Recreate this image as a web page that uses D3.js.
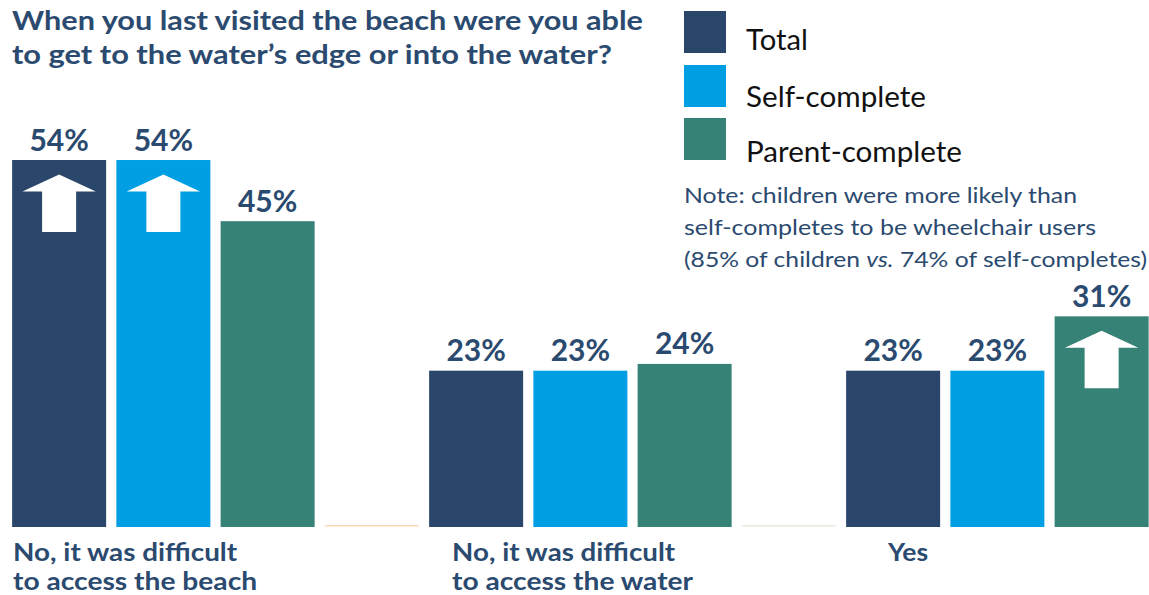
<!DOCTYPE html>
<html>
<head>
<meta charset="utf-8">
<script src="https://cdn.jsdelivr.net/npm/d3@7"></script>
<style>
  html, body { margin: 0; padding: 0; background: #fff; }
  svg { display: block; }
  text { font-family: Lato, "Open Sans", sans-serif; }
</style>
</head>
<body>
<svg id="chart" width="1149" height="595"></svg>
<script>
// ---- data ----
const categories = [
  ["No, it was difficult", "to access the beach"],
  ["No, it was difficult", "to access the water"],
  ["Yes"]
];
const seriesNames = ["Total", "Self-complete", "Parent-complete"];
const totalValues = [54, 23, 23];
const selfValues = [54, 23, 23];
const parentValues = [45, 24, 31];
// bars marked with an "up" arrow
const totalUp = [true, false, false];
const selfUp = [true, false, false];
const parentUp = [false, false, true];
const titleLines = [
  "When you last visited the beach were you able",
  "to get to the water\u2019s edge or into the water?"
];

// ---- styling ----
const colors = ["#2a466b", "#009fe3", "#378276"];
const navyText = "#2b4a6f";
const spacerColors = ["#fbd7b7", "#ecebe0"];

const svg = d3.select("#chart");

const groupIdx = d3.range(categories.length);
const slots = [...seriesNames, "gap"];
const valuesBySeries = [totalValues, selfValues, parentValues];
const upBySeries = [totalUp, selfUp, parentUp];

const x0 = d3.scaleBand().domain(groupIdx).range([7, 7 + 3 * 417]);
const x1 = d3.scaleBand().domain(slots).range([0, x0.bandwidth()])
  .paddingInner(0.0983).paddingOuter(0.0983 / 2);
const y = d3.scaleLinear().domain([0, 60]).range([527, 527 - 60 * 6.796]);

function fitWidth(sel, w) {
  sel.each(function () {
    const L = this.getComputedTextLength();
    if (Math.abs(L - w) > 1) {
      this.setAttribute("textLength", w);
      this.setAttribute("lengthAdjust", "spacingAndGlyphs");
    }
  });
}

// ---- title ----
const title = svg.append("g");
titleLines.forEach((t, i) => {
  title.append("text")
    .attr("x", 12).attr("y", [30, 64][i])
    .attr("font-size", 27).attr("font-weight", 700)
    .attr("fill", navyText)
    .text(t)
    .call(fitWidth, [631, 600][i]);
});

// ---- bars ----
const bars = [];
groupIdx.forEach(g => {
  seriesNames.forEach((s, si) => {
    bars.push({ g, s, si, v: valuesBySeries[si][g], up: upBySeries[si][g] });
  });
});

const barG = svg.append("g");
barG.selectAll("rect.bar").data(bars).join("rect")
  .attr("class", "bar")
  .attr("x", d => x0(d.g) + x1(d.s))
  .attr("y", d => y(d.v))
  .attr("width", x1.bandwidth())
  .attr("height", d => y(0) - y(d.v))
  .attr("fill", d => colors[d.si]);

// thin separator marks between groups
barG.selectAll("rect.spacer").data(groupIdx.slice(0, -1)).join("rect")
  .attr("class", "spacer")
  .attr("x", g => x0(g) + x1("gap"))
  .attr("y", y(0) - 2)
  .attr("width", x1.bandwidth())
  .attr("height", 1.5)
  .attr("fill", (g, i) => spacerColors[i]);

// value labels
barG.selectAll("text.val").data(bars).join("text")
  .attr("class", "val")
  .attr("x", d => x0(d.g) + x1(d.s) + x1.bandwidth() / 2)
  .attr("y", d => y(d.v) - 9.5)
  .attr("text-anchor", "middle")
  .attr("font-size", 30).attr("font-weight", 700)
  .attr("fill", navyText)
  .text(d => d.v + "%");

// up arrows
const arrowPath = (cx, top) => {
  const p = d3.path();
  p.moveTo(cx, top + 14.5);
  p.lineTo(cx + 36.7, top + 31.5);
  p.lineTo(cx + 17, top + 31.5);
  p.lineTo(cx + 17, top + 72);
  p.lineTo(cx - 17, top + 72);
  p.lineTo(cx - 17, top + 31.5);
  p.lineTo(cx - 36.7, top + 31.5);
  p.closePath();
  return p.toString();
};
barG.selectAll("path.arrow").data(bars.filter(d => d.up)).join("path")
  .attr("class", "arrow")
  .attr("d", d => arrowPath(x0(d.g) + x1(d.s) + x1.bandwidth() / 2, y(d.v)))
  .attr("fill", "#fff");

// category labels
const labelShift = [1, 23, 42];
const labelWidths = [[224, 244], [223, 241], [40]];
groupIdx.forEach(g => {
  const lines = categories[g];
  lines.forEach((ln, li) => {
    svg.append("text")
      .attr("x", x0(g) + x1(seriesNames[0]) + labelShift[g])
      .attr("y", 561 + li * 29)
      .attr("font-size", 25).attr("font-weight", 700)
      .attr("fill", navyText)
      .text(ln)
      .call(fitWidth, labelWidths[g][li]);
  });
});

// ---- legend ----
const legend = svg.append("g");
const legendTops = [11, 65, 118];
const legendWidths = [62, 180, 216];
seriesNames.forEach((s, i) => {
  legend.append("rect")
    .attr("x", 684).attr("y", legendTops[i])
    .attr("width", 42).attr("height", 42)
    .attr("fill", colors[i]);
  legend.append("text")
    .attr("x", 746).attr("y", legendTops[i] + 39 + i * 2.5)
    .attr("font-size", 28)
    .attr("fill", "#111")
    .text(s)
    .call(fitWidth, legendWidths[i]);
});

// ---- note ----
const note = svg.append("g").attr("fill", navyText).attr("font-size", 22);
note.append("text").attr("x", 684).attr("y", 203)
  .text("Note: children were more likely than").call(fitWidth, 393);
note.append("text").attr("x", 684).attr("y", 235)
  .text("self-completes to be wheelchair users").call(fitWidth, 412);
const n3 = note.append("text").attr("x", 684).attr("y", 267);
n3.append("tspan").text("(85% of children ");
n3.append("tspan").attr("font-style", "italic").text("vs.");
n3.append("tspan").text(" 74% of self-completes)");
n3.call(fitWidth, 463);
</script>
</body>
</html>
